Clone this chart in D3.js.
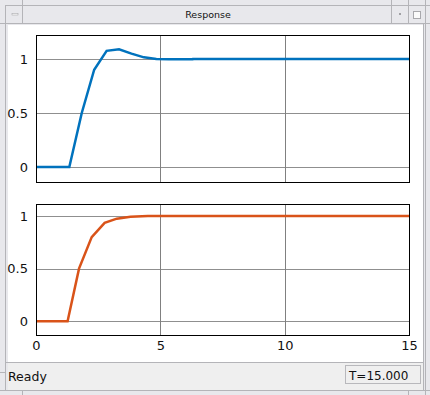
<!DOCTYPE html>
<html><head><meta charset="utf-8">
<script src="https://cdn.jsdelivr.net/npm/d3@7"></script>
<style>html,body{margin:0;padding:0;background:#e8e8ec;}svg{display:block;font-family:"DejaVu Sans",sans-serif;}</style>
</head><body>
<svg id="c" width="430" height="395"></svg>
<script>
// ---- data ----
const windowTitle = "Response";
const statusText = "Ready";
const timeText = "T=15.000";
const xTicks = [0, 5, 10, 15];
const yTicks = [0, 0.5, 1];
const tTop = [0, 1.34, 1.84, 2.34, 2.84, 3.34, 3.84, 4.34, 4.84, 5.34, 6.3, 6.31, 15];
const yTop = [0, 0, 0.5, 0.9, 1.075, 1.09, 1.05, 1.015, 1.0, 0.997, 0.997, 1.0, 1.0];
const tBot = [0, 1.27, 1.73, 2.24, 2.76, 3.25, 3.8, 4.5, 15];
const yBot = [0, 0, 0.5, 0.8, 0.935, 0.975, 0.993, 1.0, 1.0];

const svg = d3.select("#c");
const frame = "#b4b4b8";
svg.append("rect").attr("x",0).attr("y",0).attr("width",430).attr("height",395).attr("fill","#e8e8ec");
svg.append("line").attr("x1",5).attr("x2",430).attr("y1",5.5).attr("y2",5.5).attr("stroke",frame);
svg.append("line").attr("x1",0).attr("x2",430).attr("y1",23.5).attr("y2",23.5).attr("stroke",frame);
[22.5, 391.5, 408.5].forEach(x=>svg.append("line").attr("x1",x).attr("x2",x).attr("y1",0).attr("y2",24).attr("stroke",frame));
svg.append("line").attr("x1",425.5).attr("x2",425.5).attr("y1",0).attr("y2",395).attr("stroke",frame);
svg.append("line").attr("x1",5.5).attr("x2",5.5).attr("y1",5).attr("y2",391).attr("stroke",frame);
svg.append("line").attr("x1",0).attr("x2",6).attr("y1",372.5).attr("y2",372.5).attr("stroke",frame);
svg.append("line").attr("x1",0).attr("x2",430).attr("y1",390.5).attr("y2",390.5).attr("stroke",frame);
svg.append("line").attr("x1",22.5).attr("x2",22.5).attr("y1",390).attr("y2",395).attr("stroke",frame);
svg.append("line").attr("x1",408.5).attr("x2",408.5).attr("y1",390).attr("y2",395).attr("stroke",frame);
svg.append("rect").attr("x",12).attr("y",13.5).attr("width",6).attr("height",1.5).attr("fill","#fff").attr("stroke","#a8a8ac").attr("stroke-width",0.6);
svg.append("rect").attr("x",399).attr("y",13).attr("width",2).attr("height",2).attr("fill","#a0a0a4");
svg.append("rect").attr("x",413.5).attr("y",11.5).attr("width",7).attr("height",7).attr("fill","#fafafa").attr("stroke","#a8a8ac");
svg.append("text").attr("x",208).attr("y",17.5).attr("text-anchor","middle").attr("font-size",9.5).attr("fill","#111").text(windowTitle);
svg.append("rect").attr("x",8).attr("y",25).attr("width",415).attr("height",337).attr("fill","#fff");
svg.append("rect").attr("x",8).attr("y",362).attr("width",415).attr("height",28).attr("fill","#efefef");
svg.append("line").attr("x1",6).attr("x2",424).attr("y1",362.5).attr("y2",362.5).attr("stroke",frame);
svg.append("line").attr("x1",423.5).attr("x2",423.5).attr("y1",24).attr("y2",390).attr("stroke",frame);
svg.append("text").attr("x",8).attr("y",380.5).attr("font-size",12.5).attr("fill","#111").text(statusText);
svg.append("rect").attr("x",345.5).attr("y",365.5).attr("width",75).attr("height",18).attr("fill","#efefef").attr("stroke","#b8b8bc");
svg.append("text").attr("x",349).attr("y",379.5).attr("font-size",12).attr("fill","#111").text(timeText);

const x = d3.scaleLinear().domain([0,15]).range([36,409]);
function panel(top, bottom, yDomain, ts, ys, color, showX){
  const y = d3.scaleLinear().domain(yDomain).range([bottom, top]);
  const g = svg.append("g");
  g.append("g").selectAll("line").data(yTicks).join("line")
    .attr("x1",x(0)).attr("x2",x(15)).attr("y1",d=>Math.round(y(d))+0.5).attr("y2",d=>Math.round(y(d))+0.5)
    .attr("stroke","#8f8f8f").attr("stroke-width",1);
  g.append("g").selectAll("line").data(xTicks).join("line")
    .attr("x1",d=>Math.round(x(d))+0.5).attr("x2",d=>Math.round(x(d))+0.5).attr("y1",top).attr("y2",bottom)
    .attr("stroke","#808080").attr("stroke-width",1);
  const ya = d3.axisLeft(y).tickValues(yTicks).tickSize(0).tickPadding(8).tickFormat(d3.format("~g"));
  const yg = g.append("g").attr("transform",`translate(${x(0)},0)`).call(ya);
  yg.select(".domain").remove();
  yg.selectAll("text").attr("font-size",13).attr("font-family","DejaVu Sans, sans-serif").attr("fill","#111");
  if(showX){
    const xa = d3.axisBottom(x).tickValues(xTicks).tickSize(0).tickPadding(6);
    const xg = g.append("g").attr("transform",`translate(0,${bottom})`).call(xa);
    xg.select(".domain").remove();
    xg.selectAll("text").attr("font-size",13).attr("font-family","DejaVu Sans, sans-serif").attr("fill","#111");
  }
  const data = ts.map((t,i)=>[t, ys[i]]);
  g.append("path").datum(data).attr("fill","none").attr("stroke",color).attr("stroke-width",2.5)
    .attr("d", d3.line().x(d=>x(d[0])).y(d=>y(d[1])));
  g.append("rect").attr("x",Math.round(x(0))+0.5).attr("y",top+0.5).attr("width",Math.round(x(15))-Math.round(x(0))).attr("height",bottom-top)
    .attr("fill","none").attr("stroke","#000").attr("stroke-width",1);
}
panel(35, 182, [-0.139, 1.222], tTop, yTop, "#0072bd", false);
panel(204, 335, [-0.13, 1.114], tBot, yBot, "#d95319", true);
</script>
</body></html>
